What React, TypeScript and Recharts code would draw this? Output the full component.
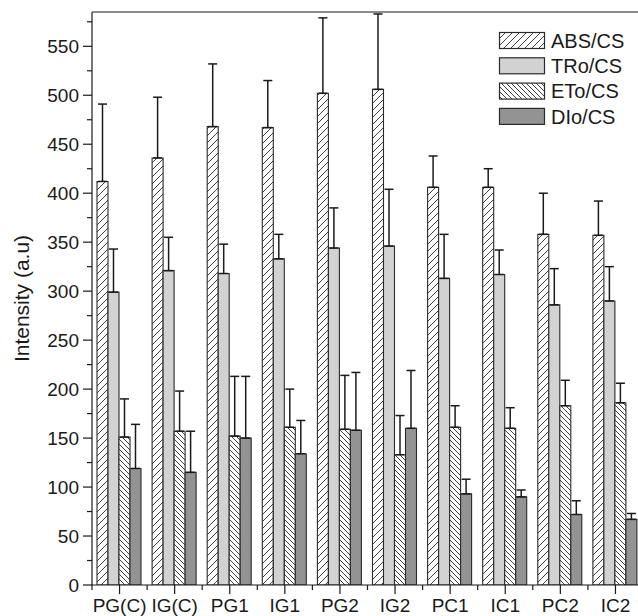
import React from 'react';
import { BarChart, Bar, XAxis, YAxis, ErrorBar, ReferenceLine } from 'recharts';

const categories = ['PG(C)', 'IG(C)', 'PG1', 'IG1', 'PG2', 'IG2', 'PC1', 'IC1', 'PC2', 'IC2'];
const absValues = [412, 436, 468, 467, 502, 506, 406, 406, 358, 357];
const absErrors = [79, 62, 64, 48, 77, 77, 32, 19, 42, 35];
const troValues = [299, 321, 318, 333, 344, 346, 313, 317, 286, 290];
const troErrors = [44, 34, 30, 25, 41, 58, 45, 25, 37, 35];
const etoValues = [151, 157, 152, 161, 159, 133, 161, 160, 183, 186];
const etoErrors = [39, 41, 61, 39, 55, 40, 22, 21, 26, 20];
const dioValues = [119, 115, 150, 134, 158, 160, 93, 90, 72, 67];
const dioErrors = [45, 42, 63, 34, 59, 59, 15, 7, 14, 6];

const yTicks = [0, 25, 50, 75, 100, 125, 150, 175, 200, 225, 250, 275, 300, 325, 350, 375, 400, 425, 450, 475, 500, 525, 550, 575];
const yMajorStep = 50;
const yMax = 585;

const legendItems = [
  { label: 'ABS/CS', fill: 'url(#lgFwd)' },
  { label: 'TRo/CS', fill: '#d2d2d2' },
  { label: 'ETo/CS', fill: 'url(#lgBack)' },
  { label: 'DIo/CS', fill: '#939393' },
];

const data = categories.map((name, i) => ({
  name,
  abs: absValues[i],
  absErr: [0, absErrors[i]],
  tro: troValues[i],
  troErr: [0, troErrors[i]],
  eto: etoValues[i],
  etoErr: [0, etoErrors[i]],
  dio: dioValues[i],
  dioErr: [0, dioErrors[i]],
}));

const FONT = '"Liberation Sans", Arial, Helvetica, sans-serif';
const INK = '#1a1a1a';
const CHART_W = 668;
const CHART_H = 616;
const MARGIN = { top: 12, right: 25, left: 0, bottom: 0 };
const Y_AXIS_W = 92;
const X_AXIS_H = 31;
const AXIS_X = MARGIN.left + Y_AXIS_W;
const AXIS_Y = CHART_H - MARGIN.bottom - X_AXIS_H;
const PLOT_W = CHART_W - MARGIN.left - MARGIN.right - Y_AXIS_W;
const HALF_BAND = PLOT_W / categories.length / 2;

const YTick = (props: any) => {
  const { y, payload } = props;
  const v = payload.value;
  const major = v % yMajorStep === 0;
  const len = major ? 9 : 5;
  return (
    <g>
      <line x1={AXIS_X - len} x2={AXIS_X} y1={y} y2={y} stroke={INK} strokeWidth={1.2} />
      {major && (
        <text x={AXIS_X - 13} y={y} dy="0.355em" textAnchor="end" fontSize={19} fill={INK} fontFamily={FONT}>
          {v}
        </text>
      )}
    </g>
  );
};

const XTick = (props: any) => {
  const { x, payload, index } = props;
  return (
    <g>
      <line x1={x} x2={x} y1={AXIS_Y} y2={AXIS_Y + 9} stroke={INK} strokeWidth={1.2} />
      <line x1={x - HALF_BAND} x2={x - HALF_BAND} y1={AXIS_Y} y2={AXIS_Y + 5} stroke={INK} strokeWidth={1.2} />
      {index === categories.length - 1 && (
        <line x1={x + HALF_BAND} x2={x + HALF_BAND} y1={AXIS_Y} y2={AXIS_Y + 5} stroke={INK} strokeWidth={1.2} />
      )}
      <text x={x} y={AXIS_Y + 14} dy="0.71em" textAnchor="middle" fontSize={19} fill={INK} fontFamily={FONT}>
        {payload.value}
      </text>
    </g>
  );
};

const Patterns = ({ prefix }: { prefix: string }) => (
  <defs>
    <pattern id={`${prefix}Fwd`} patternUnits="userSpaceOnUse" width="7" height="7">
      <rect width="7" height="7" fill="#ffffff" />
      <path d="M-1,1 L1,-1 M0,7 L7,0 M6,8 L8,6" stroke="#2a2a2a" strokeWidth="0.9" />
    </pattern>
    <pattern id={`${prefix}Back`} patternUnits="userSpaceOnUse" width="5" height="5">
      <rect width="5" height="5" fill="#ffffff" />
      <path d="M-1,4 L1,6 M0,0 L5,5 M4,-1 L6,1" stroke="#2a2a2a" strokeWidth="0.9" />
    </pattern>
  </defs>
);

const LegendBox = () => (
  <div style={{ position: 'absolute', left: 496, top: 28, width: 142, height: 110 }}>
    <svg width={142} height={110}>
      <Patterns prefix="lg" />
      {legendItems.map((it, i) => (
        <g key={it.label}>
          <rect x={3.5} y={4.5 + i * 25.3} width={45} height={16} fill={it.fill} stroke="#2a2a2a" strokeWidth={1.2} />
          <text x={55} y={12.5 + i * 25.3} dy="0.355em" fontSize={20} fill={INK} fontFamily={FONT}>
            {it.label}
          </text>
        </g>
      ))}
    </svg>
  </div>
);

export default function App() {
  return (
    <div
      style={{
        position: 'relative',
        width: 638,
        height: 616,
        overflow: 'hidden',
        fontFamily: FONT,
        background: '#fff',
      }}
    >
      <style>{'html,body{margin:0;padding:0;overflow:hidden;background:#fff;}'}</style>
      <BarChart width={CHART_W} height={CHART_H} data={data} margin={MARGIN} barCategoryGap={5} barGap={0}>
        <Patterns prefix="ch" />
        <XAxis
          dataKey="name"
          height={X_AXIS_H}
          interval={0}
          tickLine={false}
          tick={<XTick />}
          axisLine={{ stroke: INK, strokeWidth: 1.2 }}
        />
        <YAxis
          width={Y_AXIS_W}
          domain={[0, yMax]}
          ticks={yTicks}
          interval={0}
          tickLine={false}
          tick={<YTick />}
          axisLine={{ stroke: INK, strokeWidth: 1.2 }}
          allowDataOverflow
          label={{
            value: 'Intensity (a.u)',
            angle: -90,
            position: 'insideLeft',
            offset: 22,
            style: { textAnchor: 'middle', fontSize: 21, fill: INK, fontFamily: FONT },
          }}
        />
        <ReferenceLine y={yMax} stroke={INK} strokeWidth={1.2} />
        <Bar dataKey="abs" fill="url(#chFwd)" stroke="#2a2a2a" strokeWidth={1.1} isAnimationActive={false}>
          <ErrorBar dataKey="absErr" width={4.5} stroke={INK} strokeWidth={1.5} direction="y" />
        </Bar>
        <Bar dataKey="tro" fill="#d2d2d2" stroke="#2a2a2a" strokeWidth={1.1} isAnimationActive={false}>
          <ErrorBar dataKey="troErr" width={4.5} stroke={INK} strokeWidth={1.5} direction="y" />
        </Bar>
        <Bar dataKey="eto" fill="url(#chBack)" stroke="#2a2a2a" strokeWidth={1.1} isAnimationActive={false}>
          <ErrorBar dataKey="etoErr" width={4.5} stroke={INK} strokeWidth={1.5} direction="y" />
        </Bar>
        <Bar dataKey="dio" fill="#939393" stroke="#2a2a2a" strokeWidth={1.1} isAnimationActive={false}>
          <ErrorBar dataKey="dioErr" width={4.5} stroke={INK} strokeWidth={1.5} direction="y" />
        </Bar>
      </BarChart>
      <LegendBox />
    </div>
  );
}
